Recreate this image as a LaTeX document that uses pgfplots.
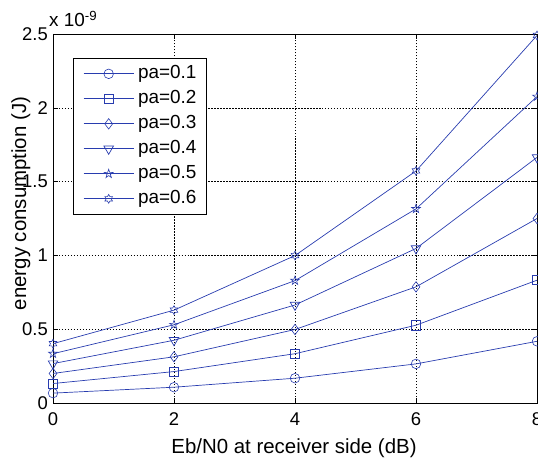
\documentclass[border=0pt]{standalone}
\usepackage{fontspec}
\setmainfont{Liberation Sans}
\usepackage{pgfplots}
\pgfplotsset{compat=1.18}
\definecolor{mblue}{RGB}{40,60,175}
\pgfdeclareplotmark{pentagram}{%
  \pgfpathmoveto{\pgfpointpolar{90}{\pgfplotmarksize}}%
  \pgfpathlineto{\pgfpointpolar{126}{0.382*\pgfplotmarksize}}%
  \pgfpathlineto{\pgfpointpolar{162}{\pgfplotmarksize}}%
  \pgfpathlineto{\pgfpointpolar{198}{0.382*\pgfplotmarksize}}%
  \pgfpathlineto{\pgfpointpolar{234}{\pgfplotmarksize}}%
  \pgfpathlineto{\pgfpointpolar{270}{0.382*\pgfplotmarksize}}%
  \pgfpathlineto{\pgfpointpolar{306}{\pgfplotmarksize}}%
  \pgfpathlineto{\pgfpointpolar{342}{0.382*\pgfplotmarksize}}%
  \pgfpathlineto{\pgfpointpolar{18}{\pgfplotmarksize}}%
  \pgfpathlineto{\pgfpointpolar{54}{0.382*\pgfplotmarksize}}%
  \pgfpathclose\pgfusepathqstroke}
\pgfdeclareplotmark{hexagram}{%
  \pgfpathmoveto{\pgfpointpolar{90}{\pgfplotmarksize}}%
  \pgfpathlineto{\pgfpointpolar{120}{0.577*\pgfplotmarksize}}%
  \pgfpathlineto{\pgfpointpolar{150}{\pgfplotmarksize}}%
  \pgfpathlineto{\pgfpointpolar{180}{0.577*\pgfplotmarksize}}%
  \pgfpathlineto{\pgfpointpolar{210}{\pgfplotmarksize}}%
  \pgfpathlineto{\pgfpointpolar{240}{0.577*\pgfplotmarksize}}%
  \pgfpathlineto{\pgfpointpolar{270}{\pgfplotmarksize}}%
  \pgfpathlineto{\pgfpointpolar{300}{0.577*\pgfplotmarksize}}%
  \pgfpathlineto{\pgfpointpolar{330}{\pgfplotmarksize}}%
  \pgfpathlineto{\pgfpointpolar{0}{0.577*\pgfplotmarksize}}%
  \pgfpathlineto{\pgfpointpolar{30}{\pgfplotmarksize}}%
  \pgfpathlineto{\pgfpointpolar{60}{0.577*\pgfplotmarksize}}%
  \pgfpathclose\pgfusepathqstroke}
\begin{document}
\begin{tikzpicture}
\begin{axis}[
  scale only axis, width=484bp, height=369bp,
  xmin=0, xmax=8, ymin=0, ymax=2.5e-9,
  xtick={0,2,4,6,8},
  ytick={0,0.5e-9,1e-9,1.5e-9,2e-9,2.5e-9},
  scaled y ticks=base 10:9,
  ytick scale label code/.code={x 10\textsuperscript{-9}},
  every y tick scale label/.style={at={(rel axis cs:0,1)}, anchor=base west, inner sep=0pt, xshift=1bp, yshift=7bp, font=\fontsize{19}{22}\selectfont},
  /pgf/number format/assume math mode=true,
  tick label style={font=\fontsize{18.5}{22}\selectfont, inner sep=0pt},
  yticklabel style={/pgf/number format/fixed, anchor=east, xshift=-5bp},
  xticklabel style={anchor=base, yshift=-22bp},
  xlabel={Eb/N0 at receiver side (dB)},
  xlabel style={font=\fontsize{20.5}{24}\selectfont, at={(rel axis cs:0.5,0)}, anchor=base, inner sep=0pt, yshift=-50bp, xshift=-1bp},
  grid=major,
  major grid style={black, line width=0.5pt, dash pattern=on 1.5pt off 1.5pt},
  axis line style={black, line width=0.8pt},
  tick align=inside, major tick length=5pt,
  tick style={black, line width=0.6pt},
  every axis plot/.append style={mblue, line width=0.7pt, mark options={solid, line width=0.6pt}},
  legend style={at={(axis description cs:0.0413,0.935)}, anchor=north west,
    draw=black, line width=0.7pt, fill=white, font=\fontsize{19}{22}\selectfont,
    nodes={inner sep=0pt, text height=13bp, text depth=4bp},
    row sep=8bp, column sep=4bp, inner xsep=10bp, inner ysep=7bp},
  legend cell align=left,
  legend image code/.code={\draw[mark repeat=2, mark phase=2] plot coordinates {(0bp,0bp) (25bp,0bp) (50bp,0bp)};},
]
\addplot[mark=o, mark size=4.8] coordinates {(0,0.067e-9) (2,0.107e-9) (4,0.168e-9) (6,0.265e-9) (8,0.418e-9)};
\addlegendentry{pa=0.1}
\addplot[mark=square, mark size=4.6] coordinates {(0,0.132e-9) (2,0.213e-9) (4,0.334e-9) (6,0.527e-9) (8,0.832e-9)};
\addlegendentry{pa=0.2}
\addplot[mark=diamond, mark size=5.2] coordinates {(0,0.2e-9) (2,0.313e-9) (4,0.498e-9) (6,0.787e-9) (8,1.25e-9)};
\addlegendentry{pa=0.3}
\addplot[mark=triangle, mark size=5.5, mark options={rotate=180}] coordinates {(0,0.267e-9) (2,0.425e-9) (4,0.664e-9) (6,1.047e-9) (8,1.664e-9)};
\addlegendentry{pa=0.4}
\addplot[mark=pentagram, mark size=4.6] coordinates {(0,0.334e-9) (2,0.53e-9) (4,0.829e-9) (6,1.315e-9) (8,2.076e-9)};
\addlegendentry{pa=0.5}
\addplot[mark=hexagram, mark size=4.4] coordinates {(0,0.402e-9) (2,0.629e-9) (4,0.999e-9) (6,1.572e-9) (8,2.49e-9)};
\addlegendentry{pa=0.6}
\end{axis}
\node[rotate=90, anchor=base, inner sep=0pt, font=\fontsize{20.5}{24}\selectfont] at ([xshift=-27bp,yshift=15bp]current axis.west) {energy consumption (J)};
\pgfresetboundingbox
\path ([shift={(-53bp,-56bp)}]current axis.south west) rectangle ([shift={(1bp,34bp)}]current axis.north east);
\end{tikzpicture}
\end{document}
